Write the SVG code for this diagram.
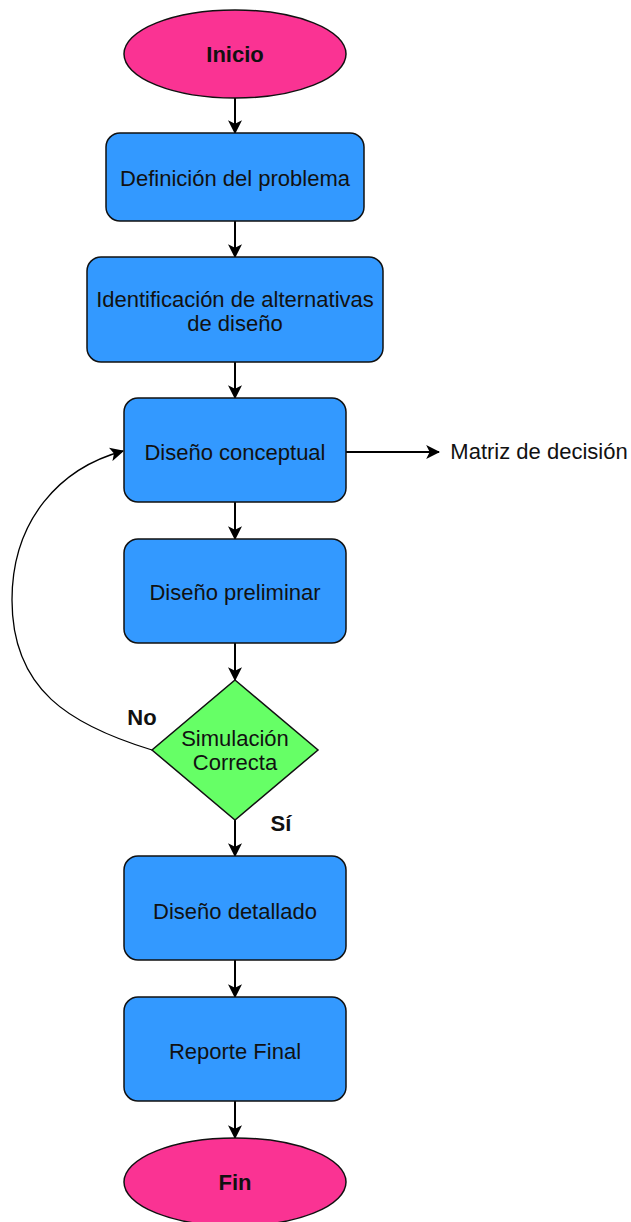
<svg xmlns="http://www.w3.org/2000/svg" width="631" height="1222" viewBox="0 0 631 1222">
<defs>
<marker id="arr" viewBox="0 0 12 12" refX="11" refY="6" markerWidth="14" markerHeight="14" markerUnits="userSpaceOnUse" orient="auto">
<path d="M0,0 L12,6 L0,12 L3,6 Z" fill="#000"/>
</marker>
<style>
.term{fill:#FA3393;stroke:#111;stroke-width:1.5}
.proc{fill:#3399FF;stroke:#111;stroke-width:1.5}
.dec{fill:#66FF66;stroke:#111;stroke-width:1.5}
text{font-family:"Liberation Sans",Arial,sans-serif;font-size:22px;fill:#111;text-anchor:middle}
.b{font-weight:bold}
.conn{fill:none;stroke:#000;stroke-width:2;marker-end:url(#arr)}
.thin{fill:none;stroke:#000;stroke-width:1.3;marker-end:url(#arr)}
</style>
</defs>
<rect width="631" height="1222" fill="#fff"/>
<g id="connectors">
<path class="conn" d="M235,98 V133"/>
<path class="conn" d="M235,221 V257"/>
<path class="conn" d="M235,362 V398"/>
<path class="conn" d="M235,502 V539"/>
<path class="conn" d="M235,643 V680"/>
<path class="conn" d="M235,820 V856"/>
<path class="conn" d="M235,960 V997"/>
<path class="conn" d="M235,1101 V1138"/>
<path class="conn" d="M346,452 H439"/>
<path class="thin" d="M152,750 C70,725 12,690 12,600 C12,520 60,468 123,451"/>
</g>
<g id="inicio"><ellipse class="term" cx="235" cy="54" rx="111" ry="44"/><text class="b" x="235" y="62">Inicio</text></g>
<g id="definicion"><rect class="proc" x="106" y="133" width="258" height="88" rx="14"/><text x="235" y="186">Definición del problema</text></g>
<g id="identificacion"><rect class="proc" x="87" y="257" width="296" height="105" rx="14"/><text x="235" y="307">Identificación de alternativas</text><text x="235" y="331">de diseño</text></g>
<g id="conceptual"><rect class="proc" x="124" y="398" width="222" height="104" rx="14"/><text x="235" y="460">Diseño conceptual</text></g>
<g id="matriz"><text x="539" y="459">Matriz de decisión</text></g>
<g id="preliminar"><rect class="proc" x="124" y="539" width="222" height="104" rx="14"/><text x="235" y="600">Diseño preliminar</text></g>
<g id="simulacion"><path class="dec" d="M235,680 L318,750 L235,820 L152,750 Z"/><text x="235" y="746">Simulación</text><text x="235" y="770">Correcta</text></g>
<g id="labels"><text class="b" x="142" y="725">No</text><text class="b" x="281" y="831">Sí</text></g>
<g id="detallado"><rect class="proc" x="124" y="856" width="222" height="104" rx="14"/><text x="235" y="919">Diseño detallado</text></g>
<g id="reporte"><rect class="proc" x="124" y="997" width="222" height="104" rx="14"/><text x="235" y="1059">Reporte Final</text></g>
<g id="fin"><ellipse class="term" cx="235" cy="1182" rx="111" ry="44"/><text class="b" x="235" y="1190">Fin</text></g>
</svg>
